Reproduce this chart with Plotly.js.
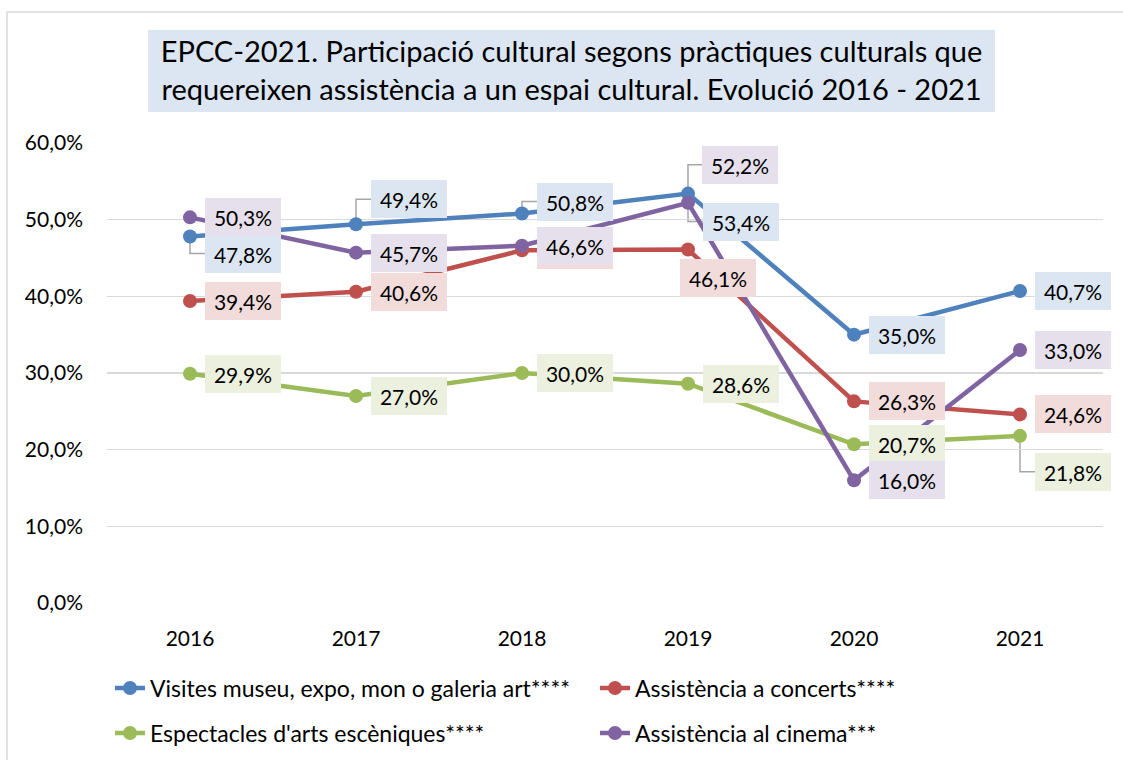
<!DOCTYPE html>
<html>
<head>
<meta charset="utf-8">
<script src="https://cdn.plot.ly/plotly-3.0.1.min.js"></script>
<style>html,body{margin:0;padding:0;background:#fff;}#chart{width:1123px;height:760px;}</style>
</head>
<body>
<div id="chart"></div>
<script>
// ---- data ----
const years = ['2016', '2017', '2018', '2019', '2020', '2021'];
const seriesNames = [
  'Visites museu, expo, mon o galeria art****',
  'Assistència a concerts****',
  "Espectacles d'arts escèniques****",
  'Assistència al cinema***'
];
const visites  = [47.8, 49.4, 50.8, 53.4, 35.0, 40.7];
const concerts = [39.4, 40.6, 46.0, 46.1, 26.3, 24.6];
const arts     = [29.9, 27.0, 30.0, 28.6, 20.7, 21.8];
const cinema   = [50.3, 45.7, 46.6, 52.2, 16.0, 33.0];
const yTicks   = [0, 10, 20, 30, 40, 50, 60];
const titleText = 'EPCC-2021. Participació cultural segons pràctiques culturals que<br>requereixen assistència a un espai cultural. Evolució 2016 - 2021';

// ---- styles ----
const FONT = 'Lato, "Noto Sans", sans-serif';
const lineColors = ['#4F81BD', '#C0504D', '#9BBB59', '#8064A2'];
const boxColors  = ['#DCE6F2', '#F2DCDB', '#EBF1DE', '#E6E0EC'];
const allSeries = [visites, concerts, arts, cinema];
const legendOf = ['legend', 'legend', 'legend2', 'legend2'];
const xIdx = years.map((_, i) => i);

// label offsets in pixels [dx, dy(up)]
const D = [53, 0];
const labelOffsets = [
  [[53, -17], [53, 25], [53, 12], [53, -28], D, D], // visites
  [D, D, D, [30, -28.5], D, D],                      // concerts
  [D, D, D, D, D, [53, -36]],                        // arts
  [D, D, D, [52, 38], D, D]                          // cinema
];
const leaders = [
  [true, true, true, true, false, false],
  [false, false, false, false, false, false],
  [false, false, false, false, false, true],
  [false, false, false, true, false, false]
];

const fmt = v => v.toFixed(1).replace('.', ',') + '%';

const traces = allSeries.map((vals, i) => ({
  type: 'scatter', mode: 'lines+markers',
  x: xIdx, y: vals, name: seriesNames[i],
  legend: legendOf[i],
  line: {color: lineColors[i], width: 4.5},
  marker: {color: lineColors[i], size: 14, symbol: 'circle'},
  hoverinfo: 'skip'
}));

const annotations = [];
const shapes = [];
const annOrder = [1, 2, 0, 3];
annOrder.forEach(si => {
  allSeries[si].forEach((v, j) => {
    const off = labelOffsets[si][j];
    annotations.push({
      x: xIdx[j], y: v, xref: 'x', yref: 'y',
      text: fmt(v), showarrow: false,
      xshift: off[0], yshift: off[1],
      xanchor: 'center', yanchor: 'middle',
      width: 64, height: 26, borderpad: 6, borderwidth: 0,
      bgcolor: boxColors[si],
      font: {family: FONT, size: 21, color: '#000'}
    });
    if (leaders[si][j]) {
      const edge = off[0] - 38;
      shapes.push({
        type: 'path', layer: 'below',
        xref: 'x', yref: 'y', xsizemode: 'pixel', ysizemode: 'pixel',
        xanchor: xIdx[j], yanchor: v,
        path: 'M0,0 L0,' + off[1] + ' L' + edge + ',' + off[1],
        line: {color: '#A6A6A6', width: 1.5}
      });
    }
  });
});

// title background box and chart frame (paper coords)
shapes.push({type: 'rect', xref: 'paper', yref: 'paper', layer: 'below',
  x0: 0.0412, x1: 0.8916, y0: 1.0674, y1: 1.2457,
  fillcolor: '#DCE6F2', line: {width: 0}});
shapes.push({type: 'rect', xref: 'paper', yref: 'paper', layer: 'below',
  x0: -0.1004, x1: 1.06, y0: -0.5, y1: 1.2848,
  fillcolor: 'rgba(0,0,0,0)', line: {color: '#D9D9D9', width: 1.5}});

const layout = {
  width: 1123, height: 760,
  margin: {l: 107, r: 20, t: 143, b: 157, autoexpand: false},
  paper_bgcolor: '#fff', plot_bgcolor: '#fff',
  font: {family: FONT, color: '#000'},
  title: {
    text: titleText,
    font: {family: FONT, size: 29, color: '#000'},
    xref: 'paper', x: 0.4664, xanchor: 'center',
    yref: 'container', y: 0.918, yanchor: 'middle'
  },
  xaxis: {
    range: [-0.5, 5.5], tickvals: xIdx, ticktext: years,
    showgrid: false, showline: false, zeroline: false,
    ticks: '', tickfont: {family: FONT, size: 21, color: '#000'},
    ticklabelstandoff: 21
  },
  yaxis: {
    range: [0, 60], tickvals: yTicks, ticktext: yTicks.map(fmt),
    showgrid: true, gridcolor: '#D9D9D9', gridwidth: 1.5,
    zeroline: false, showline: false, ticks: '',
    tickfont: {family: FONT, size: 21, color: '#000'},
    ticklabelstandoff: 23
  },
  legend: {
    orientation: 'h', x: 0.003, xanchor: 'left',
    yref: 'container', y: 0.0947, yanchor: 'middle',
    font: {family: FONT, size: 23, color: '#000'},
    entrywidth: 440, entrywidthmode: 'pixels', bgcolor: 'rgba(0,0,0,0)'
  },
  legend2: {
    orientation: 'h', x: 0.003, xanchor: 'left',
    yref: 'container', y: 0.0355, yanchor: 'middle',
    font: {family: FONT, size: 23, color: '#000'},
    entrywidth: 440, entrywidthmode: 'pixels', bgcolor: 'rgba(0,0,0,0)'
  },
  showlegend: true,
  annotations: annotations,
  shapes: shapes
};

Plotly.newPlot('chart', traces, layout, {displayModeBar: false, staticPlot: true});
</script>
</body>
</html>
